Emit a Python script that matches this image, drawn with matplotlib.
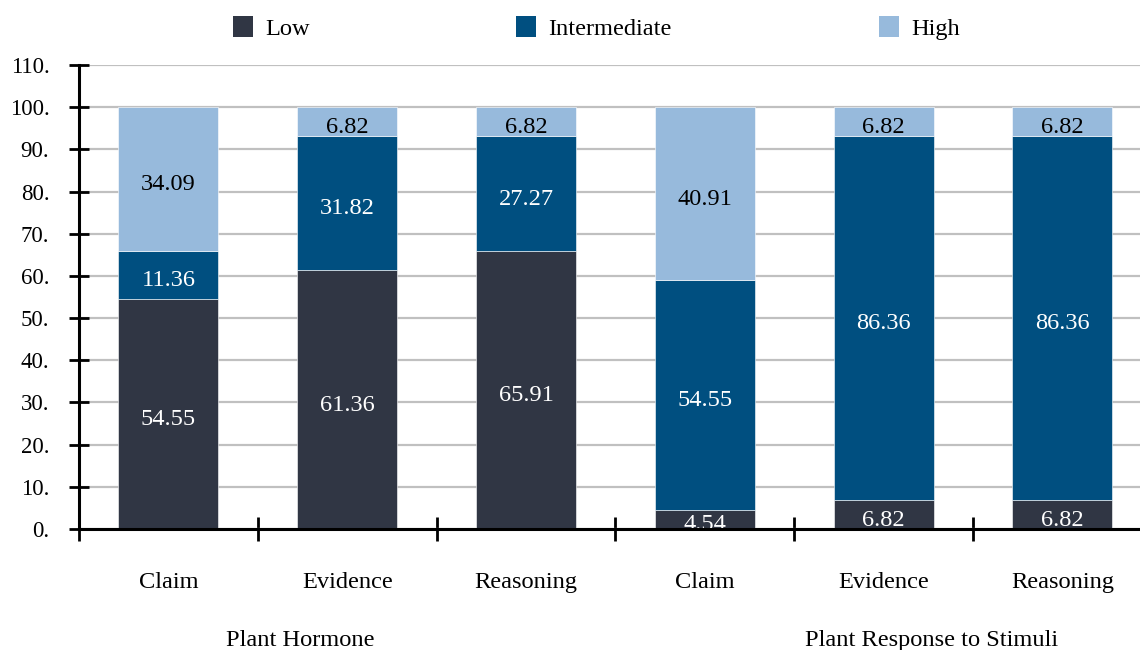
import matplotlib
matplotlib.use("Agg")
import matplotlib.pyplot as plt
from matplotlib.patches import Patch

plt.rcParams['font.family'] = ['Liberation Serif', 'DejaVu Serif']

# ---- data ----
categories = ["Claim", "Evidence", "Reasoning", "Claim", "Evidence", "Reasoning"]
groups = ["Plant Hormone", "Plant Response to Stimuli"]
low = [54.55, 61.36, 65.91, 4.54, 6.82, 6.82]
intermediate = [11.36, 31.82, 27.27, 54.55, 86.36, 86.36]
high = [34.09, 6.82, 6.82, 40.91, 6.82, 6.82]
series_names = ["Low", "Intermediate", "High"]
y_ticks = [0, 10, 20, 30, 40, 50, 60, 70, 80, 90, 100, 110]
y_tick_labels = [f"{t}." for t in y_ticks]

colors = ["#303644", "#004F80", "#97BADC"]
text_colors = ["white", "white", "black"]

fig = plt.figure(figsize=(11.4, 6.5), dpi=100)
W, H = 1140, 650
ax_left, ax_top, ax_bottom = 79, 65, 529
slot = 178.8
ax = fig.add_axes([ax_left / W, (H - ax_bottom) / H,
                   slot * len(categories) / W, (ax_bottom - ax_top) / H])

x = [i + 0.5 for i in range(len(categories))]
bar_w = 0.56
bottom = [0.0] * len(categories)
for vals, c, tc, name in zip([low, intermediate, high], colors, text_colors, series_names):
    bars = ax.bar(x, vals, bar_w, bottom=bottom, color=c, edgecolor="white",
                  linewidth=0.4, label=name, zorder=3)
    anns = ax.bar_label(bars, labels=[f"{v:.2f}" for v in vals], label_type="center",
                        color=tc, fontsize=17.6, zorder=4)
    for a in anns:
        a.xyann = (0, -4)
    bottom = [b + v for b, v in zip(bottom, vals)]

ax.set_xlim(0, len(categories))
ax.set_ylim(0, 110)
ax.set_yticks(y_ticks)
ax.set_yticklabels(y_tick_labels, fontsize=16.5)
ax.yaxis.grid(True, color="#C0C0C0", linewidth=1.6, zorder=0)
ax.set_axisbelow(True)

ax.set_xticks(range(len(categories) + 1))
ax.set_xticklabels([])
ax.tick_params(axis="x", direction="inout", length=17, width=2.0, color="black")
ax.tick_params(axis="y", direction="inout", length=13.7, width=2.0, color="black", pad=14.5)

for s in ["top", "right"]:
    ax.spines[s].set_visible(False)
for s in ["left", "bottom"]:
    ax.spines[s].set_linewidth(2.2)
    ax.spines[s].set_zorder(5)

# category labels under each bar
for xi, cat in zip(x, categories):
    ax.annotate(cat, xy=(xi, 0), xycoords=("data", "axes fraction"),
                xytext=(0, -38.2), textcoords="offset points",
                ha="center", va="center", fontsize=17.6)

# group labels
group_x = [1.24, 4.77]
for gx, g in zip(group_x, groups):
    ax.annotate(g, xy=(gx, 0), xycoords=("data", "axes fraction"),
                xytext=(0, -80), textcoords="offset points",
                ha="center", va="center", fontsize=17.6)

# legend: one entry per evenly spaced cell
legend_centers = [271, 594, 919]
for name, c, cx in zip(series_names, colors, legend_centers):
    fig.legend(handles=[Patch(facecolor=c, edgecolor="none")], labels=[name],
               loc="center", bbox_to_anchor=(cx / W, 1 - 28 / H),
               frameon=False, fontsize=17.6, handlelength=0.82,
               handleheight=0.94, handletextpad=0.5, borderpad=0.0)

fig.savefig("out.png", dpi=100)
